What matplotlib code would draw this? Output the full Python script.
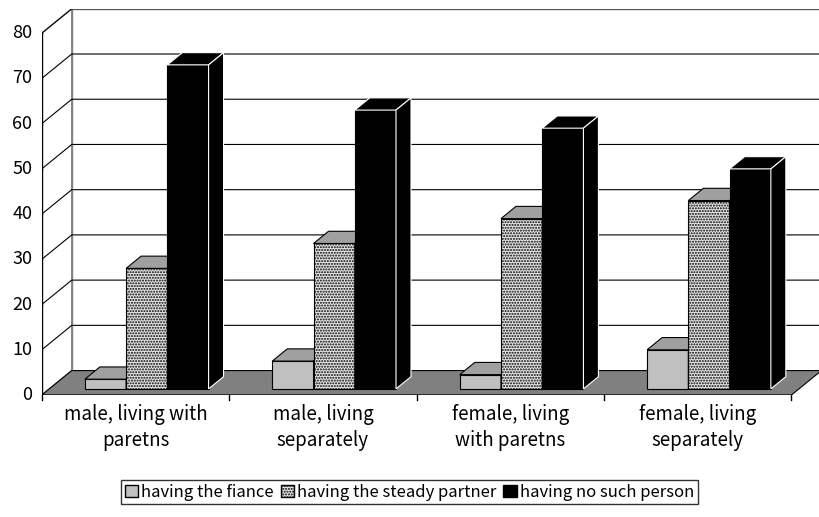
import matplotlib.pyplot as plt
from matplotlib.patches import Polygon, Rectangle

categories = ['male, living with\nparetns', 'male, living\nseparately',
              'female, living\nwith paretns', 'female, living\nseparately']
series = ['having the fiance', 'having the steady partner', 'having no such person']
fiance = [3.5, 7.5, 4.5, 10]
steady = [28, 33.5, 39, 43]
no_one = [73, 63, 59, 50]
yticks = [0, 10, 20, 30, 40, 50, 60, 70, 80]

plt.rcParams['font.family'] = ['Noto Sans CJK JP', 'DejaVu Sans']
plt.rcParams['hatch.color'] = '#909090'
fig = plt.figure(figsize=(8.19, 5.17), dpi=100)
ax = fig.add_axes([0.051, 0.236, 0.952, 0.747])
dx, dy = 0.16, 5.4
ax.set_xlim(-0.5, 3.5 + dx)
ax.set_ylim(0, 80 + dy)
ax.axis('off')

# walls
ax.add_patch(Rectangle((-0.5 + dx, dy), 4, 80, facecolor='white', edgecolor='#808080', lw=1, zorder=0.2))
ax.add_patch(Polygon([(-0.5, 0), (-0.5 + dx, dy), (-0.5 + dx, 80 + dy), (-0.5, 80)],
                     facecolor='white', edgecolor='#808080', lw=1, zorder=0.2))
for v in yticks[1:]:
    ax.plot([-0.5, -0.5 + dx, 3.5 + dx], [v, v + dy, v + dy], color='black', lw=0.8, zorder=0.3)
# floor
ax.add_patch(Polygon([(-0.5, 0), (3.5, 0), (3.5 + dx, dy), (-0.5 + dx, dy)],
                     facecolor='#808080', edgecolor='black', lw=0.8, zorder=0.4))

# bars
w = 0.22
bdy0 = 0.25 * dy
bdx, bdy = 0.5 * dx, 0.5 * dy
styles = [dict(fc='#c0c0c0', top='#a0a0a0', side='#909090', hatch=None),
          dict(fc='#e8e8e8', top='#a0a0a0', side='#c8c8c8', hatch='......'),
          dict(fc='black', top='black', side='black', hatch=None)]
for j, vals in enumerate([fiance, steady, no_one]):
    s = styles[j]
    for i, v in enumerate(vals):
        x0 = i + (j - 1) * w - w / 2 + 0.06
        y0 = bdy0
        ax.add_patch(Rectangle((x0, y0), w, v - y0, facecolor=s['fc'], edgecolor='black',
                               hatch=s['hatch'], lw=0.8, zorder=1))
        ec = 'black' if j < 2 else 'white'
        ax.add_patch(Polygon([(x0, v), (x0 + bdx, v + bdy), (x0 + w + bdx, v + bdy), (x0 + w, v)],
                             facecolor=s['top'], edgecolor=ec, lw=0.8, zorder=1))
        ax.add_patch(Polygon([(x0 + w, y0), (x0 + w + bdx, y0 + bdy), (x0 + w + bdx, v + bdy), (x0 + w, v)],
                             facecolor=s['side'], edgecolor=ec, lw=0.8, zorder=1))

# axes lines
ax.plot([-0.5, -0.5], [0, 80], color='black', lw=1)
ax.plot([-0.5, 3.5], [0, 0], color='black', lw=1)
for v in yticks:
    ax.plot([-0.53, -0.5], [v, v], color='black', lw=1)
    ax.text(-0.55, v, str(v), ha='right', va='center', fontsize=13)
for i in range(5):
    ax.plot([i - 0.5, i - 0.5], [0, -1.2], color='black', lw=1, clip_on=False)
for i, c in enumerate(categories):
    ax.text(i, -2, c, ha='center', va='top', fontsize=13.5, linespacing=1.3)

handles = [Rectangle((0, 0), 1, 1, facecolor=s['fc'], edgecolor='black', hatch=s['hatch'])
           for s in styles]
fig.legend(handles, series, loc='center', bbox_to_anchor=(0.5, 0.048), ncol=3,
           frameon=True, fancybox=False, edgecolor='black', fontsize=12,
           handlelength=0.8, handleheight=0.8, handletextpad=0.2, columnspacing=0.4,
           borderpad=0.2)
fig.savefig('out.png')
